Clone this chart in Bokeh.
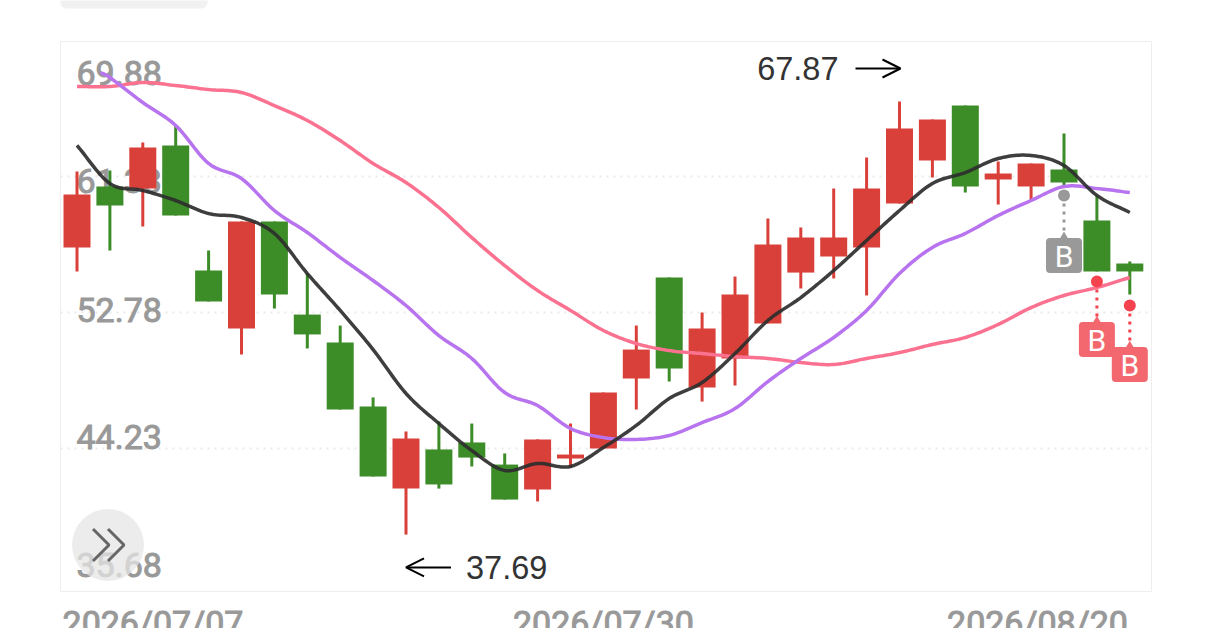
import numpy as np
from bokeh.core.properties import value
from bokeh.embed import file_html
from bokeh.models import Arrow, FixedTicker, OpenHead, Label
from bokeh.plotting import figure
from bokeh.resources import INLINE

# ---- data -----------------------------------------------------------------
candle_open = [56.87, 60.70, 60.58, 63.28, 55.42, 51.77, 58.50, 52.65, 50.89, 46.87, 41.71,
               44.17, 44.61, 43.22, 41.65, 43.60, 44.23, 48.63, 54.98, 48.06, 49.89, 52.09,
               55.29, 56.30, 56.87, 59.63, 62.34, 65.79, 61.14, 60.70, 61.77, 58.56, 55.86]
candle_close = [60.20, 59.51, 63.15, 58.88, 53.47, 58.50, 53.91, 51.40, 46.68, 42.47, 44.86,
                41.97, 43.66, 41.02, 44.80, 43.85, 47.75, 50.45, 49.26, 51.77, 53.91, 57.05,
                57.49, 57.49, 60.58, 64.35, 64.91, 60.70, 61.52, 62.15, 60.95, 55.36, 55.36]
candle_high = [61.64, 61.71, 63.47, 64.54, 56.68, 58.50, 58.50, 55.23, 51.96, 47.44, 45.30,
               45.93, 45.80, 43.92, 44.80, 45.80, 47.75, 51.96, 54.98, 52.78, 55.04, 58.69,
               58.12, 60.58, 62.52, 66.05, 64.91, 65.79, 62.27, 62.15, 64.03, 60.14, 55.99]
candle_low = [55.36, 56.68, 58.19, 58.88, 53.47, 50.14, 53.03, 50.52, 46.68, 42.47, 38.82,
              41.71, 43.10, 41.02, 40.90, 43.03, 44.23, 46.68, 48.44, 47.18, 48.19, 52.09,
              54.29, 54.92, 53.85, 59.63, 61.27, 60.32, 59.57, 59.76, 60.76, 55.36, 53.91]
ma_black = [63.28, 60.89, 60.45, 59.82, 59.00, 58.75, 57.75, 55.23, 52.91, 50.45, 47.69,
            45.80, 44.10, 42.85, 43.29, 43.10, 44.29, 45.68, 47.37, 48.38, 50.20, 52.28,
            53.72, 55.42, 57.31, 59.19, 60.89, 61.58, 62.46, 62.65, 62.02, 60.14, 59.07]
ma_purple = [67.87, 67.55, 65.98, 64.54, 62.15, 61.20, 59.19, 57.81, 56.24, 54.79, 53.22,
             51.33, 49.89, 47.75, 46.93, 45.49, 44.92, 44.80, 45.05, 45.86, 46.74, 48.44,
             49.89, 51.21, 52.91, 55.23, 56.87, 57.75, 58.88, 59.82, 60.70, 60.58, 60.32]
ma_pink = [66.99, 66.99, 67.24, 67.05, 66.80, 66.61, 65.79, 64.85, 63.59, 62.15, 60.95,
           59.38, 57.49, 55.73, 54.16, 52.91, 51.65, 50.83, 50.39, 50.20, 50.01, 49.89,
           49.64, 49.51, 49.89, 50.26, 50.77, 51.21, 52.03, 53.09, 53.85, 54.35, 54.98]
y_tick_values = [69.88, 61.33, 52.78, 44.23, 35.68]
y_tick_labels = ["69.88", "61.33", "52.78", "44.23", "35.68"]
x_tick_labels = ["2026/07/07", "2026/07/30", "2026/08/20"]
signal_index = [30, 31, 32]
signal_price = [60.14, 54.73, 53.22]
signal_label = ["B", "B", "B"]
high_label, low_label = "67.87", "37.69"

# ---- style / layout --------------------------------------------------------
RED, GREEN = "#d9403a", "#3c8c28"
PX_X = 32.9                # px per candle
PX_Y = 136 / 8.55          # px per price unit
idx = np.arange(len(candle_open))
to_x = lambda px: (px - 76.5) / PX_X
to_y = lambda py: 61.33 + (176 - py) / PX_Y
FL, FR, FT, FB = to_x(60), to_x(1151), to_y(41), to_y(591)   # the visible chart box


def smooth(xs, ys, n=14):
    xs, ys = np.asarray(xs, float), np.asarray(ys, float)
    px = np.r_[2 * xs[0] - xs[1], xs, 2 * xs[-1] - xs[-2]]
    py = np.r_[2 * ys[0] - ys[1], ys, 2 * ys[-1] - ys[-2]]
    ox, oy = [], []
    for i in range(1, len(px) - 2):
        for t in np.linspace(0, 1, n, endpoint=False):
            c = lambda a: 0.5 * (2 * a[i] + (a[i + 1] - a[i - 1]) * t
                                 + (2 * a[i - 1] - 5 * a[i] + 4 * a[i + 1] - a[i + 2]) * t ** 2
                                 + (3 * a[i] - a[i - 1] - 3 * a[i + 1] + a[i + 2]) * t ** 3)
            ox.append(c(px))
            oy.append(c(py))
    ox.append(xs[-1])
    oy.append(ys[-1])
    return ox, oy


p = figure(width=1206, height=628, output_backend="svg", toolbar_location=None,
           x_range=(to_x(0), to_x(1206)), y_range=(to_y(628), to_y(0)),
           min_border_left=0, min_border_right=0, min_border_top=0, min_border_bottom=0,
           background_fill_color="white", border_fill_color="white",
           outline_line_color=None)

p.xgrid.visible = False
p.ygrid.visible = False
p.yaxis.visible = False

# dotted price lines, only across the chart box
grid_values = y_tick_values[1:4]
p.segment([FL] * 3, grid_values, [FR] * 3, grid_values, line_color="#e9e9e9", line_dash="2 5", line_width=2)

# chart box and the tab that peeks in above it
p.quad(left=[FL], right=[FR], top=[FT], bottom=[FB], fill_color=None, line_color="#eeeeee", line_width=1)
p.quad(left=[to_x(60)], right=[to_x(207)], top=[to_y(-10)], bottom=[to_y(8)], fill_color="#f1f1f1",
       line_color=None, border_radius=6)

# x axis
x_tick_pos = [to_x(152.5), 16.0, to_x(1037)]
p.xaxis.ticker = FixedTicker(ticks=x_tick_pos)
p.xaxis.major_label_overrides = dict(zip(x_tick_pos, x_tick_labels))
p.xaxis.fixed_location = FB
p.xaxis.axis_line_color = None
p.xaxis.major_tick_line_color = None
p.xaxis.minor_tick_line_color = None
p.xaxis.major_label_text_font = "Roboto"
p.xaxis.major_label_text_font_size = "34px"
p.xaxis.major_label_text_color = "#999999"
p.xaxis.major_label_text_outline_color = "#999999"
p.xaxis.major_label_standoff = 5

# y labels (inside the plot, under the candles)
y_offsets = [32, 4, -3, -12, -20]
p.text([to_x(76)] * 5, y_tick_values, text=y_tick_labels, y_offset=y_offsets,
       text_font=value("Roboto"), text_font_size="34px", text_color="#999999",
       text_baseline="middle", text_align="left", text_outline_color="#999999")

# candles
colors = [RED if c >= o else GREEN for o, c in zip(candle_open, candle_close)]
p.segment(idx, candle_high, idx, candle_low, line_color=colors, line_width=3)
p.vbar(idx, top=[max(a, b) for a, b in zip(candle_open, candle_close)],
       bottom=[min(a, b) for a, b in zip(candle_open, candle_close)],
       width=27 / PX_X, fill_color=colors, line_color=None)

# moving averages
purple_x = [to_x(100)] + list(idx[1:])
for sx0, series, col, al in ((idx, ma_pink, "#fb7290", 1), (purple_x, ma_purple, "#b874ef", 1), (idx, ma_black, "#2e2e2e", 0.92)):
    sx, sy = smooth(sx0, series)
    p.line(sx, sy, line_color=col, line_width=3.5, line_alpha=al)

# buy signals
sig_col = ["#999999", "#f2686e", "#f2686e"]
dot_col = ["#999999", "#f4434f", "#f4434f"]
badge_drop = [60, 58, 59]          # px between dot and badge centre
sig_bottom = [v - d / PX_Y for v, d in zip(signal_price, badge_drop)]
p.segment(signal_index, signal_price, signal_index, sig_bottom, line_color=dot_col,
          line_width=3, line_dash="3 5")
p.scatter(signal_index, signal_price, size=12, color=dot_col, line_color=None)
p.rect(signal_index, sig_bottom, width=36, height=35, width_units="screen", height_units="screen",
       fill_color=sig_col, line_color=None, border_radius=4)
p.scatter(signal_index, [v + 17.5 / PX_Y for v in sig_bottom], marker="triangle", size=11,
          color=sig_col, line_color=None)
p.text(signal_index, sig_bottom, text=signal_label, text_color="white", text_align="center",
       text_baseline="middle", text_font=value("Roboto"), text_font_size="30px", y_offset=1)

# high / low annotations
hi_y, lo_y = 68.12, 36.75
hi_i, lo_i = 25, 10
p.add_layout(Arrow(x_start=hi_i - 44 / PX_X, y_start=hi_y, x_end=hi_i + 0.03, y_end=hi_y, line_color="black", line_width=2,
                   end=OpenHead(size=18, line_color="black", line_width=2)))
p.add_layout(Arrow(x_start=lo_i + 45 / PX_X, y_start=lo_y, x_end=lo_i, y_end=lo_y, line_color="black", line_width=2,
                   end=OpenHead(size=18, line_color="black", line_width=2)))
p.add_layout(Label(x=hi_i - 61 / PX_X, y=hi_y, text=high_label, text_align="right", text_baseline="middle",
                   text_font="Liberation Sans", text_font_size="32.5px", text_color="#333333"))
p.add_layout(Label(x=lo_i + 60 / PX_X, y=lo_y, text=low_label, text_align="left", text_baseline="middle",
                   text_font="Liberation Sans", text_font_size="32.5px", text_color="#333333"))

# round ">>" button
bx, by = to_x(107.5), to_y(544.5)
p.scatter([bx], [by], size=72, color="#e6e6e6", alpha=0.75, line_color=None)
chev = lambda dx: ([bx + (dx - 16) / PX_X, bx + dx / PX_X, bx + (dx - 16) / PX_X],
                   [by + 16 / PX_Y, by, by - 16 / PX_Y])
for dx in (1, 16):
    cx, cy = chev(dx)
    p.line(cx, cy, line_color="#666666", line_width=3)

open("out.html", "w").write(file_html(p, INLINE))
